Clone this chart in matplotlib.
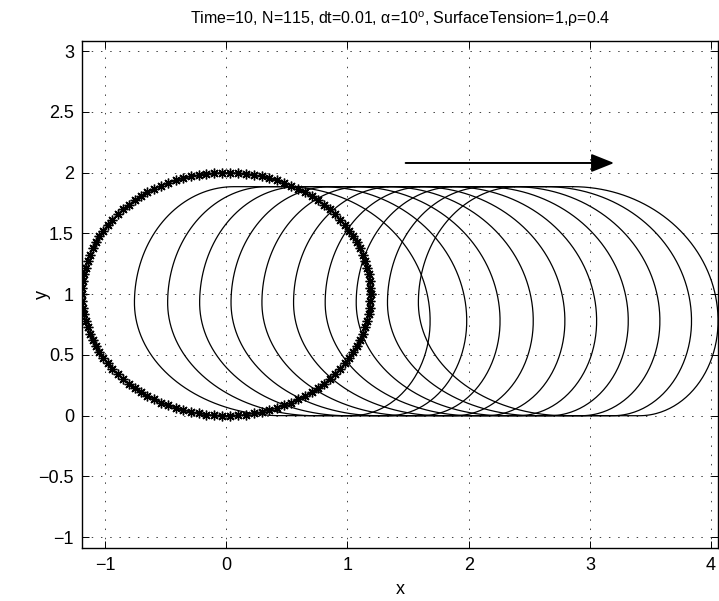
import numpy as np
import matplotlib.pyplot as plt

plt.rcParams['font.family'] = ['Liberation Sans', 'DejaVu Sans']
plt.rcParams['mathtext.fontset'] = 'custom'
plt.rcParams['mathtext.rm'] = 'Liberation Sans'

# initial drop (t=0), drawn with markers
n_pts = 115
cx0, cy0 = 0.0, 1.0
rx0, ry0 = 1.19, 1.0

# outlines at later times: extreme left / right x of each one
left_x = [-0.758, -0.484, -0.220, 0.039, 0.294, 0.555, 0.816, 1.072, 1.330, 1.585]
right_x = [1.682, 1.984, 2.259, 2.533, 2.794, 3.056, 3.317, 3.578, 3.839, 4.058]
top_y = 1.885
left_mid_y = 0.93
right_mid_y = 0.78
# widths of the rounded rear (left) and front (right) sides, upper / lower part
lt_w, lb_w = 0.82, 1.22
rt_w, rb_w = 1.20, 0.65

# direction arrow
arrow_from = (1.48, 2.08)
arrow_to = (3.20, 2.08)


def outline(xl, xr):
    t = np.linspace(0, np.pi / 2, 80)
    # front side, top to bottom
    ru_x = xr - rt_w + rt_w * np.sin(t)
    ru_y = right_mid_y + (top_y - right_mid_y) * np.cos(t)
    rl_x = xr - rb_w + rb_w * np.cos(t)
    rl_y = right_mid_y - right_mid_y * np.sin(t)
    # rear side, bottom to top
    ll_x = xl + lb_w - lb_w * np.sin(t)
    ll_y = left_mid_y - left_mid_y * np.cos(t)
    lu_x = xl + lt_w - lt_w * np.cos(t)
    lu_y = left_mid_y + (top_y - left_mid_y) * np.sin(t)
    xs = np.concatenate([ru_x, rl_x, ll_x, lu_x, ru_x[:1]])
    ys = np.concatenate([ru_y, rl_y, ll_y, lu_y, ru_y[:1]])
    return xs, ys


fig = plt.figure(figsize=(7.19, 6.01), dpi=100)
ax = fig.add_axes([0.1145, 0.0877, 0.8842, 0.8441])

th = np.linspace(0, 2 * np.pi, n_pts)
ax.plot(cx0 + rx0 * np.cos(th), cy0 + ry0 * np.sin(th), '-', color='k', lw=1.0,
        marker=(8, 2, 0), ms=7, mew=1.0)

for xl, xr in zip(left_x, right_x):
    xs, ys = outline(xl, xr)
    ax.plot(xs, ys, '-', color='k', lw=0.9)

ax.annotate('', xy=arrow_to, xytext=arrow_from,
            arrowprops=dict(arrowstyle='-|>,head_length=0.7,head_width=0.28',
                            mutation_scale=20, color='k', lw=1.4, shrinkA=0, shrinkB=0))

ax.set_xlim(-1.188, 4.058)
ax.set_ylim(-1.091, 3.084)
ax.set_xticks([-1, 0, 1, 2, 3, 4])
ax.set_yticks([-1, -0.5, 0, 0.5, 1, 1.5, 2, 2.5, 3])
ax.set_yticklabels(['\u22121', '\u22120.5', '0', '0.5', '1', '1.5', '2', '2.5', '3'])
ax.grid(True, color='0.25', lw=0.7, linestyle=(0, (1.5, 8)))
ax.tick_params(direction='in', top=True, right=True, length=5, width=0.7,
               labelsize=13, pad=6)
for s in ax.spines.values():
    s.set_linewidth(1.0)

ax.set_xlabel('x', fontsize=13, labelpad=5)
ax.set_ylabel('y', fontsize=13)
ax.yaxis.set_label_coords(-0.05, 0.5)
ax.set_title('Time=10, N=115, dt=0.01, \u03b1=10$^{\\mathrm{o}}$, SurfaceTension=1,\u03c1=0.4',
             fontsize=11.5, pad=12)

fig.savefig('out.png', dpi=100)
